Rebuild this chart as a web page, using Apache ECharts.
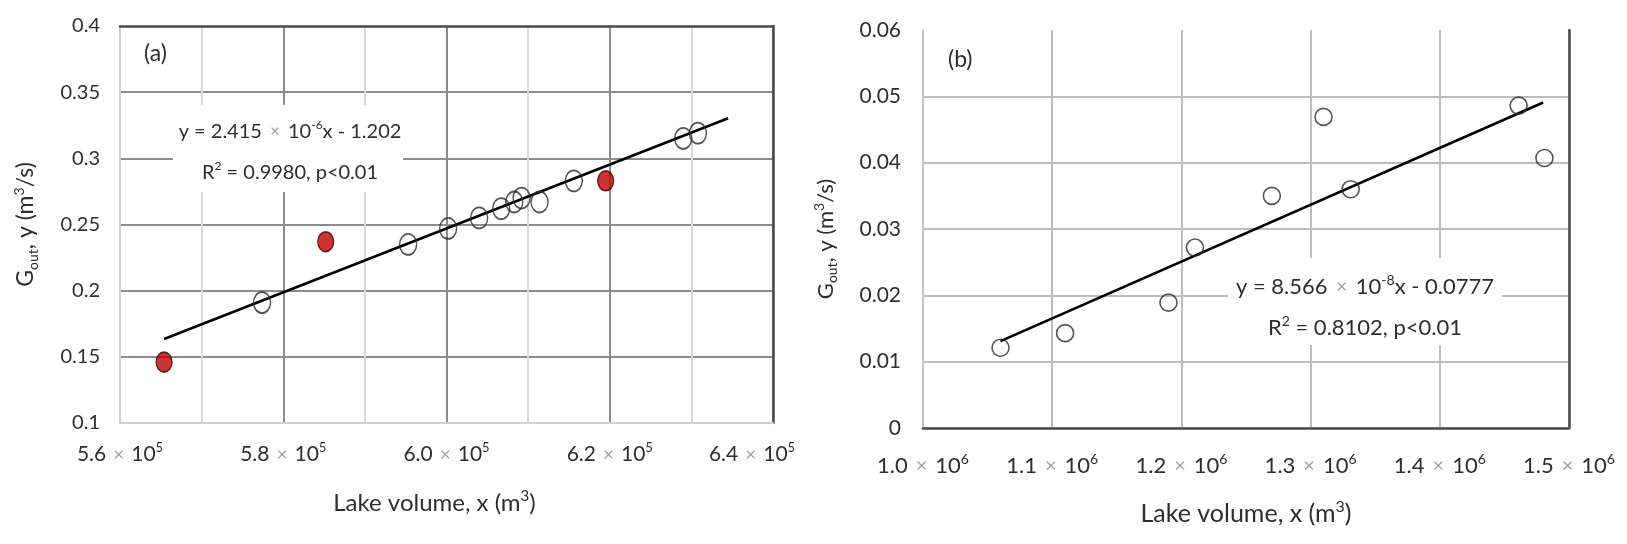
<!DOCTYPE html>
<html>
<head>
<meta charset="utf-8">
<script src="https://cdn.jsdelivr.net/npm/echarts@6/dist/echarts.min.js"></script>
<style>
    html, body { margin: 0; background: #fff; }
    #main { width: 1627px; height: 544px; }
</style>
</head>
<body>
<div id="main"></div>
<script>
// ---- data ----
// panel (a): lake volume (m3) vs G_out (m3/s)
var aVolume  = [5.774e5, 5.953e5, 6.002e5, 6.040e5, 6.067e5, 6.083e5, 6.092e5, 6.114e5, 6.156e5, 6.290e5, 6.308e5];
var aOutflow = [0.191, 0.235, 0.247, 0.255, 0.262, 0.267, 0.270, 0.267, 0.283, 0.315, 0.319];
// red (highlighted) points of panel (a)
var aRedVolume  = [5.654e5, 5.852e5, 6.195e5];
var aRedOutflow = [0.146, 0.237, 0.283];
// fitted line of panel (a): slope, intercept, x range
var aFit = [2.415e-6, -1.202];
var aFitRange = [5.654e5, 6.345e5];

// panel (b)
var bVolume  = [1.060e6, 1.110e6, 1.190e6, 1.2105e6, 1.270e6, 1.310e6, 1.331e6, 1.461e6, 1.481e6];
var bOutflow = [0.0121, 0.0143, 0.0189, 0.0272, 0.0350, 0.0469, 0.0360, 0.0486, 0.0407];
var bFit = [8.566e-8, -0.0777];
var bFitRange = [1.060e6, 1.480e6];

// tick labels shown on the x axes (mantissa; exponent is 5 for a, 6 for b)
var aXTicks = ['5.6', '5.8', '6.0', '6.2', '6.4'];
var bXTicks = ['1.0', '1.1', '1.2', '1.3', '1.4', '1.5'];

var FONT = 'Lato';
var TXT = '#2e2e2e';

function pairs(xs, ys) {
    return xs.map(function (x, i) { return [x, ys[i]]; });
}
function fitLine(fit, range) {
    return range.map(function (x) { return [x, fit[0] * x + fit[1]]; });
}

// rich styles for  "m × 10^e"
function sciRich(size, gap) {
    return {
        m:   { fontFamily: FONT, fontSize: size, color: TXT, lineHeight: size + 6 },
        x:   { fontFamily: FONT, fontSize: size - 2, color: '#a0a0a0', lineHeight: size + 6, padding: [0, gap, 0, gap] },
        sup: { fontFamily: FONT, fontSize: Math.round(size * 0.62), color: TXT, lineHeight: 13, verticalAlign: 'top' },
        pad: { width: 42 }
    };
}
function eqRich(size) {
    return {
        t:   { fontFamily: FONT, fontSize: size, fill: TXT, lineHeight: size + 6 },
        x:   { fontFamily: FONT, fontSize: size - 3, fill: '#a0a0a0', lineHeight: size + 6, padding: [0, 3, 0, 3] },
        sup: { fontFamily: FONT, fontSize: Math.round(size * 0.62), fill: TXT, lineHeight: 14, verticalAlign: 'top' }
    };
}
function nameRich(size) {
    return {
        n:   { fontFamily: FONT, fontSize: size, color: TXT, lineHeight: size + 5 },
        sub: { fontFamily: FONT, fontSize: Math.round(size * 0.62), color: TXT, lineHeight: 13, verticalAlign: 'bottom' },
        sup: { fontFamily: FONT, fontSize: Math.round(size * 0.62), color: TXT, lineHeight: 13, verticalAlign: 'top' }
    };
}

var yName = '{n|G}{sub|out}{n|, y (m}{sup|3}{n|/s)}';
var xName = '{n|Lake volume, x (m}{sup|3}{n|)}';

var myChart = echarts.init(document.getElementById('main'));

var option = {
    animation: false,
    backgroundColor: '#fff',
    grid: [
        { left: 120, top: 26, width: 653, height: 397 },
        { left: 923, top: 30, width: 646, height: 398 }
    ],
    xAxis: [
        {
            type: 'value', gridIndex: 0, min: 5.6e5, max: 6.4e5, interval: 1e4,
            axisLine: { lineStyle: { color: '#d0d0d0', width: 2 } },
            axisTick: { show: false },
            splitLine: { show: true, showMinLine: false, lineStyle: { color: ['#d9d9d9', '#8c8c8c'], width: 2 } },
            axisLabel: {
                margin: 18,
                formatter: function (v) {
                    var k = Math.round((v - 5.6e5) / 1e4);
                    if (k % 2) return '';
                    var s = '{m|' + aXTicks[k / 2] + '}{x|×}{m|10}{sup|5}';
                    if (k === 8) s += '{pad| }';
                    return s;
                },
                rich: sciRich(21, 7)
            },
            name: xName, nameLocation: 'middle', nameGap: 66,
            nameTextStyle: { rich: nameRich(24), padding: [0, 24, 0, 0] }
        },
        {
            type: 'value', gridIndex: 0, position: 'top', min: 5.6e5, max: 6.4e5,
            axisLine: { show: true, lineStyle: { color: '#4a4a4a', width: 2.5 } },
            axisTick: { show: false }, axisLabel: { show: false }, splitLine: { show: false }
        },
        {
            type: 'value', gridIndex: 1, min: 1.0e6, max: 1.5e6, interval: 1e5,
            axisLine: { lineStyle: { color: '#c4c4c4', width: 2 } },
            axisTick: { show: false },
            splitLine: { show: true, showMinLine: false, lineStyle: { color: '#bdbdbd', width: 2 } },
            axisLabel: {
                margin: 24,
                formatter: function (v) {
                    var k = Math.round((v - 1.0e6) / 1e5);
                    return '{m|' + bXTicks[k] + '}{x|×}{m|10}{sup|6}';
                },
                rich: sciRich(22, 8)
            },
            name: xName, nameLocation: 'middle', nameGap: 71,
            nameTextStyle: { rich: nameRich(25) }
        },
        {
            type: 'value', gridIndex: 1, position: 'top', min: 1.0e6, max: 1.5e6,
            axisLine: { show: true, lineStyle: { color: '#4a4a4a', width: 2.5 } },
            axisTick: { show: false }, axisLabel: { show: false }, splitLine: { show: false }
        }
    ],
    yAxis: [
        {
            type: 'value', gridIndex: 0, min: 0.1, max: 0.4, interval: 0.05,
            axisLine: { show: true, lineStyle: { color: '#d0d0d0', width: 2 } },
            axisTick: { show: false },
            splitLine: { show: true, showMinLine: false, showMaxLine: false, lineStyle: { color: '#8c8c8c', width: 2 } },
            axisLabel: { margin: 20, fontFamily: FONT, fontSize: 20, color: TXT },
            name: yName, nameLocation: 'middle', nameGap: 80,
            nameTextStyle: { rich: nameRich(23) }
        },
        {
            type: 'value', gridIndex: 0, position: 'right', min: 0.1, max: 0.4,
            axisLine: { show: true, lineStyle: { color: '#4a4a4a', width: 2.5 } },
            axisTick: { show: false }, axisLabel: { show: false }, splitLine: { show: false }
        },
        {
            type: 'value', gridIndex: 1, min: 0, max: 0.06, interval: 0.01,
            axisLine: { show: true, lineStyle: { color: '#c4c4c4', width: 2 } },
            axisTick: { show: false },
            splitLine: { show: true, showMinLine: false, showMaxLine: false, lineStyle: { color: '#bdbdbd', width: 2 } },
            axisLabel: { margin: 22, fontFamily: FONT, fontSize: 21, color: TXT },
            name: yName, nameLocation: 'middle', nameGap: 84,
            nameTextStyle: { rich: nameRich(22), padding: [0, 20, 0, 0] }
        },
        {
            type: 'value', gridIndex: 1, position: 'right', min: 0, max: 0.06,
            axisLine: { show: true, lineStyle: { color: '#4a4a4a', width: 2.5 } },
            axisTick: { show: false }, axisLabel: { show: false }, splitLine: { show: false }
        }
    ],
    series: [
        {
            type: 'line', xAxisIndex: 0, yAxisIndex: 0,
            data: fitLine(aFit, aFitRange),
            showSymbol: false, lineStyle: { color: '#000', width: 2.6 }, z: 3
        },
        {
            type: 'scatter', xAxisIndex: 0, yAxisIndex: 0,
            data: pairs(aVolume, aOutflow),
            symbol: 'circle', symbolSize: [17, 21],
            itemStyle: { color: 'rgba(255,255,255,0)', borderColor: '#2b2b2b', borderWidth: 1.6 }, z: 4
        },
        {
            type: 'scatter', xAxisIndex: 0, yAxisIndex: 0,
            data: pairs(aRedVolume, aRedOutflow),
            symbol: 'circle', symbolSize: [16, 20],
            itemStyle: { color: '#c00000', borderColor: '#3a0000', borderWidth: 1.4 }, z: 4
        },
        {
            type: 'line', xAxisIndex: 2, yAxisIndex: 2,
            data: fitLine(bFit, bFitRange),
            showSymbol: false, lineStyle: { color: '#000', width: 2.6 }, z: 3
        },
        {
            type: 'scatter', xAxisIndex: 2, yAxisIndex: 2,
            data: pairs(bVolume, bOutflow),
            symbol: 'circle', symbolSize: 17,
            itemStyle: { color: 'rgba(255,255,255,0)', borderColor: '#2b2b2b', borderWidth: 1.6 }, z: 4
        }
    ],
    graphic: [
        { type: 'text', left: 144, top: 42, z: 10,
          style: { text: '(a)', fontFamily: FONT, fontSize: 23, fill: TXT } },
        { type: 'text', left: 948, top: 48, z: 10,
          style: { text: '(b)', fontFamily: FONT, fontSize: 23, fill: TXT } },
        // equation box (a)
        { type: 'rect', left: 173, top: 105, z: 10,
          shape: { width: 230, height: 87 }, style: { fill: '#fff' } },
        { type: 'text', x: 290, y: 132, z: 11,
          style: { text: '{t|y = 2.415 }{x|×}{t| 10}{sup|-6}{t|x - 1.202}',
                   align: 'center', verticalAlign: 'middle', rich: eqRich(20) } },
        { type: 'text', x: 290, y: 173, z: 11,
          style: { text: '{t|R}{sup|2}{t| = 0.9980, p<0.01}',
                   align: 'center', verticalAlign: 'middle', rich: eqRich(20) } },
        // equation box (b)
        { type: 'rect', left: 1228, top: 258, z: 10,
          shape: { width: 274, height: 87 }, style: { fill: '#fff' } },
        { type: 'text', x: 1365, y: 287, z: 11,
          style: { text: '{t|y = 8.566 }{x|×}{t| 10}{sup|-8}{t|x - 0.0777}',
                   align: 'center', verticalAlign: 'middle', rich: eqRich(22) } },
        { type: 'text', x: 1365, y: 328, z: 11,
          style: { text: '{t|R}{sup|2}{t| = 0.8102, p<0.01}',
                   align: 'center', verticalAlign: 'middle', rich: eqRich(22) } }
    ]
};

myChart.setOption(option);
</script>
</body>
</html>
